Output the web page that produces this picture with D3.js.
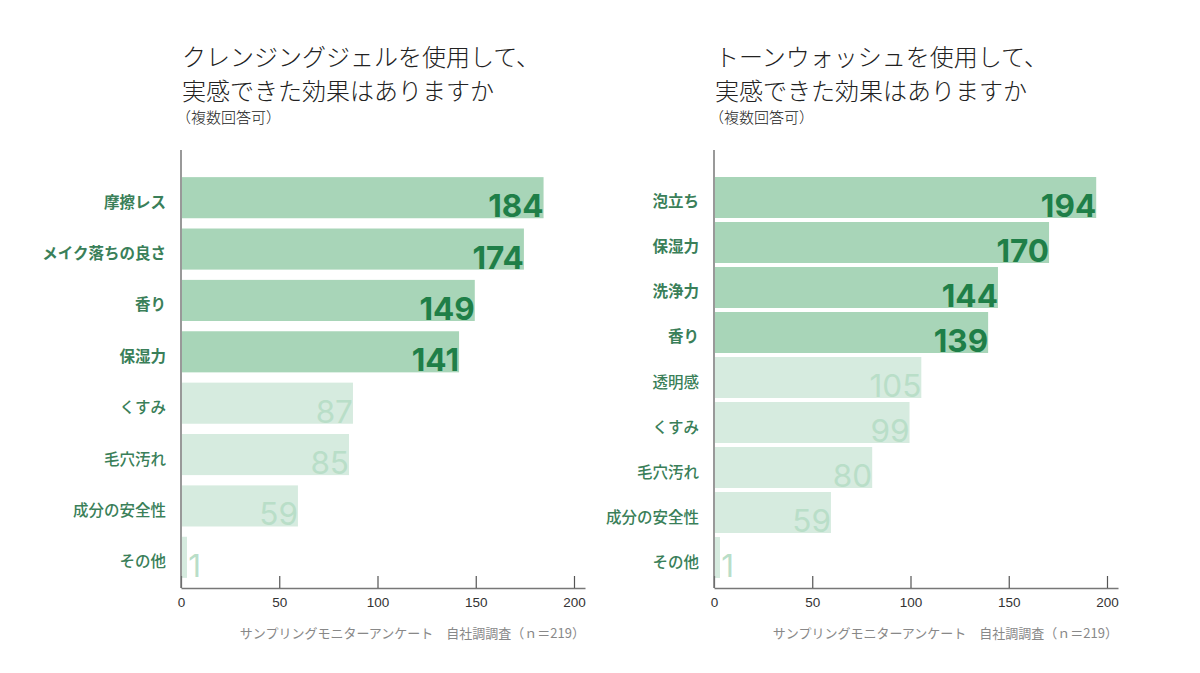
<!DOCTYPE html>
<html>
<head>
<meta charset="utf-8">
<script src="https://cdn.jsdelivr.net/npm/d3@7"></script>
<style>
  body { margin: 0; background: #fff; }
  svg { display: block; font-family: "Noto Sans CJK JP", "Noto Sans", sans-serif; }
</style>
</head>
<body>
<svg id="chart" width="1200" height="673"></svg>
<script>
// data
var gelCategories = ['摩擦レス', 'メイク落ちの良さ', '香り', '保湿力', 'くすみ', '毛穴汚れ', '成分の安全性', 'その他'];
var gelValues = [184, 174, 149, 141, 87, 85, 59, 1];
var washCategories = ['泡立ち', '保湿力', '洗浄力', '香り', '透明感', 'くすみ', '毛穴汚れ', '成分の安全性', 'その他'];
var washValues = [194, 170, 144, 139, 105, 99, 80, 59, 1];
var gelTitle = ['クレンジングジェルを使用して、', '実感できた効果はありますか', '（複数回答可）'];
var washTitle = ['トーンウォッシュを使用して、', '実感できた効果はありますか', '（複数回答可）'];
var xTicks = [0, 50, 100, 150, 200];
var highlightCount = 4;
var sourceNote = 'サンプリングモニターアンケート　自社調調査（ｎ＝219）';

var svg = d3.select('#chart');

var DARK_BAR = '#a8d5b8';
var LIGHT_BAR = '#d6ebdf';
var DARK_VALUE = '#1f7f48';
var LIGHT_VALUE = '#b9dec8';
var LABEL_COLOR = '#3a7f59';
var AXIS_COLOR = '#777';

/**
 * Draw one horizontal bar panel.
 */
function drawPanel(x0, categories, values, title, padInner, padOuter) {
  var g = svg.append('g');

  // titles
  g.selectAll('.title-line').data(title).enter().append('text')
      .attr('x', function(d, i) { return i < 2 ? x0 + 1 : x0 - 5; })
      .attr('y', function(d, i) { return [55, 89, 116][i]; })
      .attr('dominant-baseline', 'central')
      .attr('font-size', function(d, i) { return i < 2 ? 24 : 15; })
      .attr('font-weight', 300)
      .attr('fill', '#222')
      .text(function(d) { return d; });

  var x = d3.scaleLinear().domain([0, 205.6]).range([x0, x0 + 404]);
  var y = d3.scaleBand().domain(categories).range([172, 583])
      .paddingInner(padInner).paddingOuter(padOuter);

  var rows = categories.map(function(c, i) {
    return {name: c, value: values[i], top: i < highlightCount};
  });

  // bars
  g.selectAll('.bar').data(rows).enter().append('rect')
      .attr('x', x(0) + 1)
      .attr('y', function(d) { return y(d.name); })
      .attr('width', function(d) { return Math.max(x(d.value) - x(0), 5); })
      .attr('height', y.bandwidth())
      .attr('fill', function(d) { return d.top ? DARK_BAR : LIGHT_BAR; });

  // values
  g.selectAll('.value').data(rows).enter().append('text')
      .attr('x', function(d) {
        var w = x(d.value) - x(0);
        return w < 30 ? x(0) + 20 : x(d.value) + 1;
      })
      .attr('y', function(d) { return y(d.name) + y.bandwidth() - 1; })
      .attr('text-anchor', 'end')
      .attr('font-family', 'Inter, "Noto Sans", sans-serif')
      .attr('font-size', 31.5)
      .attr('font-weight', function(d) { return d.top ? 700 : 400; })
      .attr('fill', function(d) { return d.top ? DARK_VALUE : LIGHT_VALUE; })
      .text(function(d) { return d.value; });

  // category labels
  g.selectAll('.label').data(rows).enter().append('text')
      .attr('x', x0 - 15)
      .attr('y', function(d) { return y(d.name) + y.bandwidth() / 2 + 3; })
      .attr('text-anchor', 'end')
      .attr('dominant-baseline', 'central')
      .attr('font-size', 15.5)
      .attr('font-weight', function(d) { return d.top ? 700 : 500; })
      .attr('fill', LABEL_COLOR)
      .text(function(d) { return d.name; });

  // x axis with inward ticks
  var axis = g.append('g')
      .attr('transform', 'translate(0,588)')
      .call(d3.axisBottom(x).tickValues(xTicks).tickSize(-12).tickSizeOuter(0).tickPadding(9));
  axis.select('.domain').attr('stroke', AXIS_COLOR).attr('stroke-width', 1.5);
  axis.selectAll('.tick line').attr('stroke', '#555').attr('stroke-width', 1.2);
  axis.selectAll('.tick text')
      .attr('font-family', '"Liberation Sans", Arial, sans-serif')
      .attr('font-size', 13.5)
      .attr('fill', '#333');

  // y axis line
  g.append('line')
      .attr('x1', x0).attr('x2', x0)
      .attr('y1', 150).attr('y2', 588)
      .attr('stroke', AXIS_COLOR)
      .attr('stroke-width', 1.5);

  // source note
  g.append('text')
      .attr('x', x0 + 404)
      .attr('y', 632)
      .attr('text-anchor', 'end')
      .attr('dominant-baseline', 'central')
      .attr('font-size', 13)
      .attr('fill', '#888')
      .text(sourceNote);
}

drawPanel(181, gelCategories, gelValues, gelTitle, 0.2, 0.1);
drawPanel(714, washCategories, washValues, washTitle, 0.089, 0.111);
</script>
</body>
</html>
